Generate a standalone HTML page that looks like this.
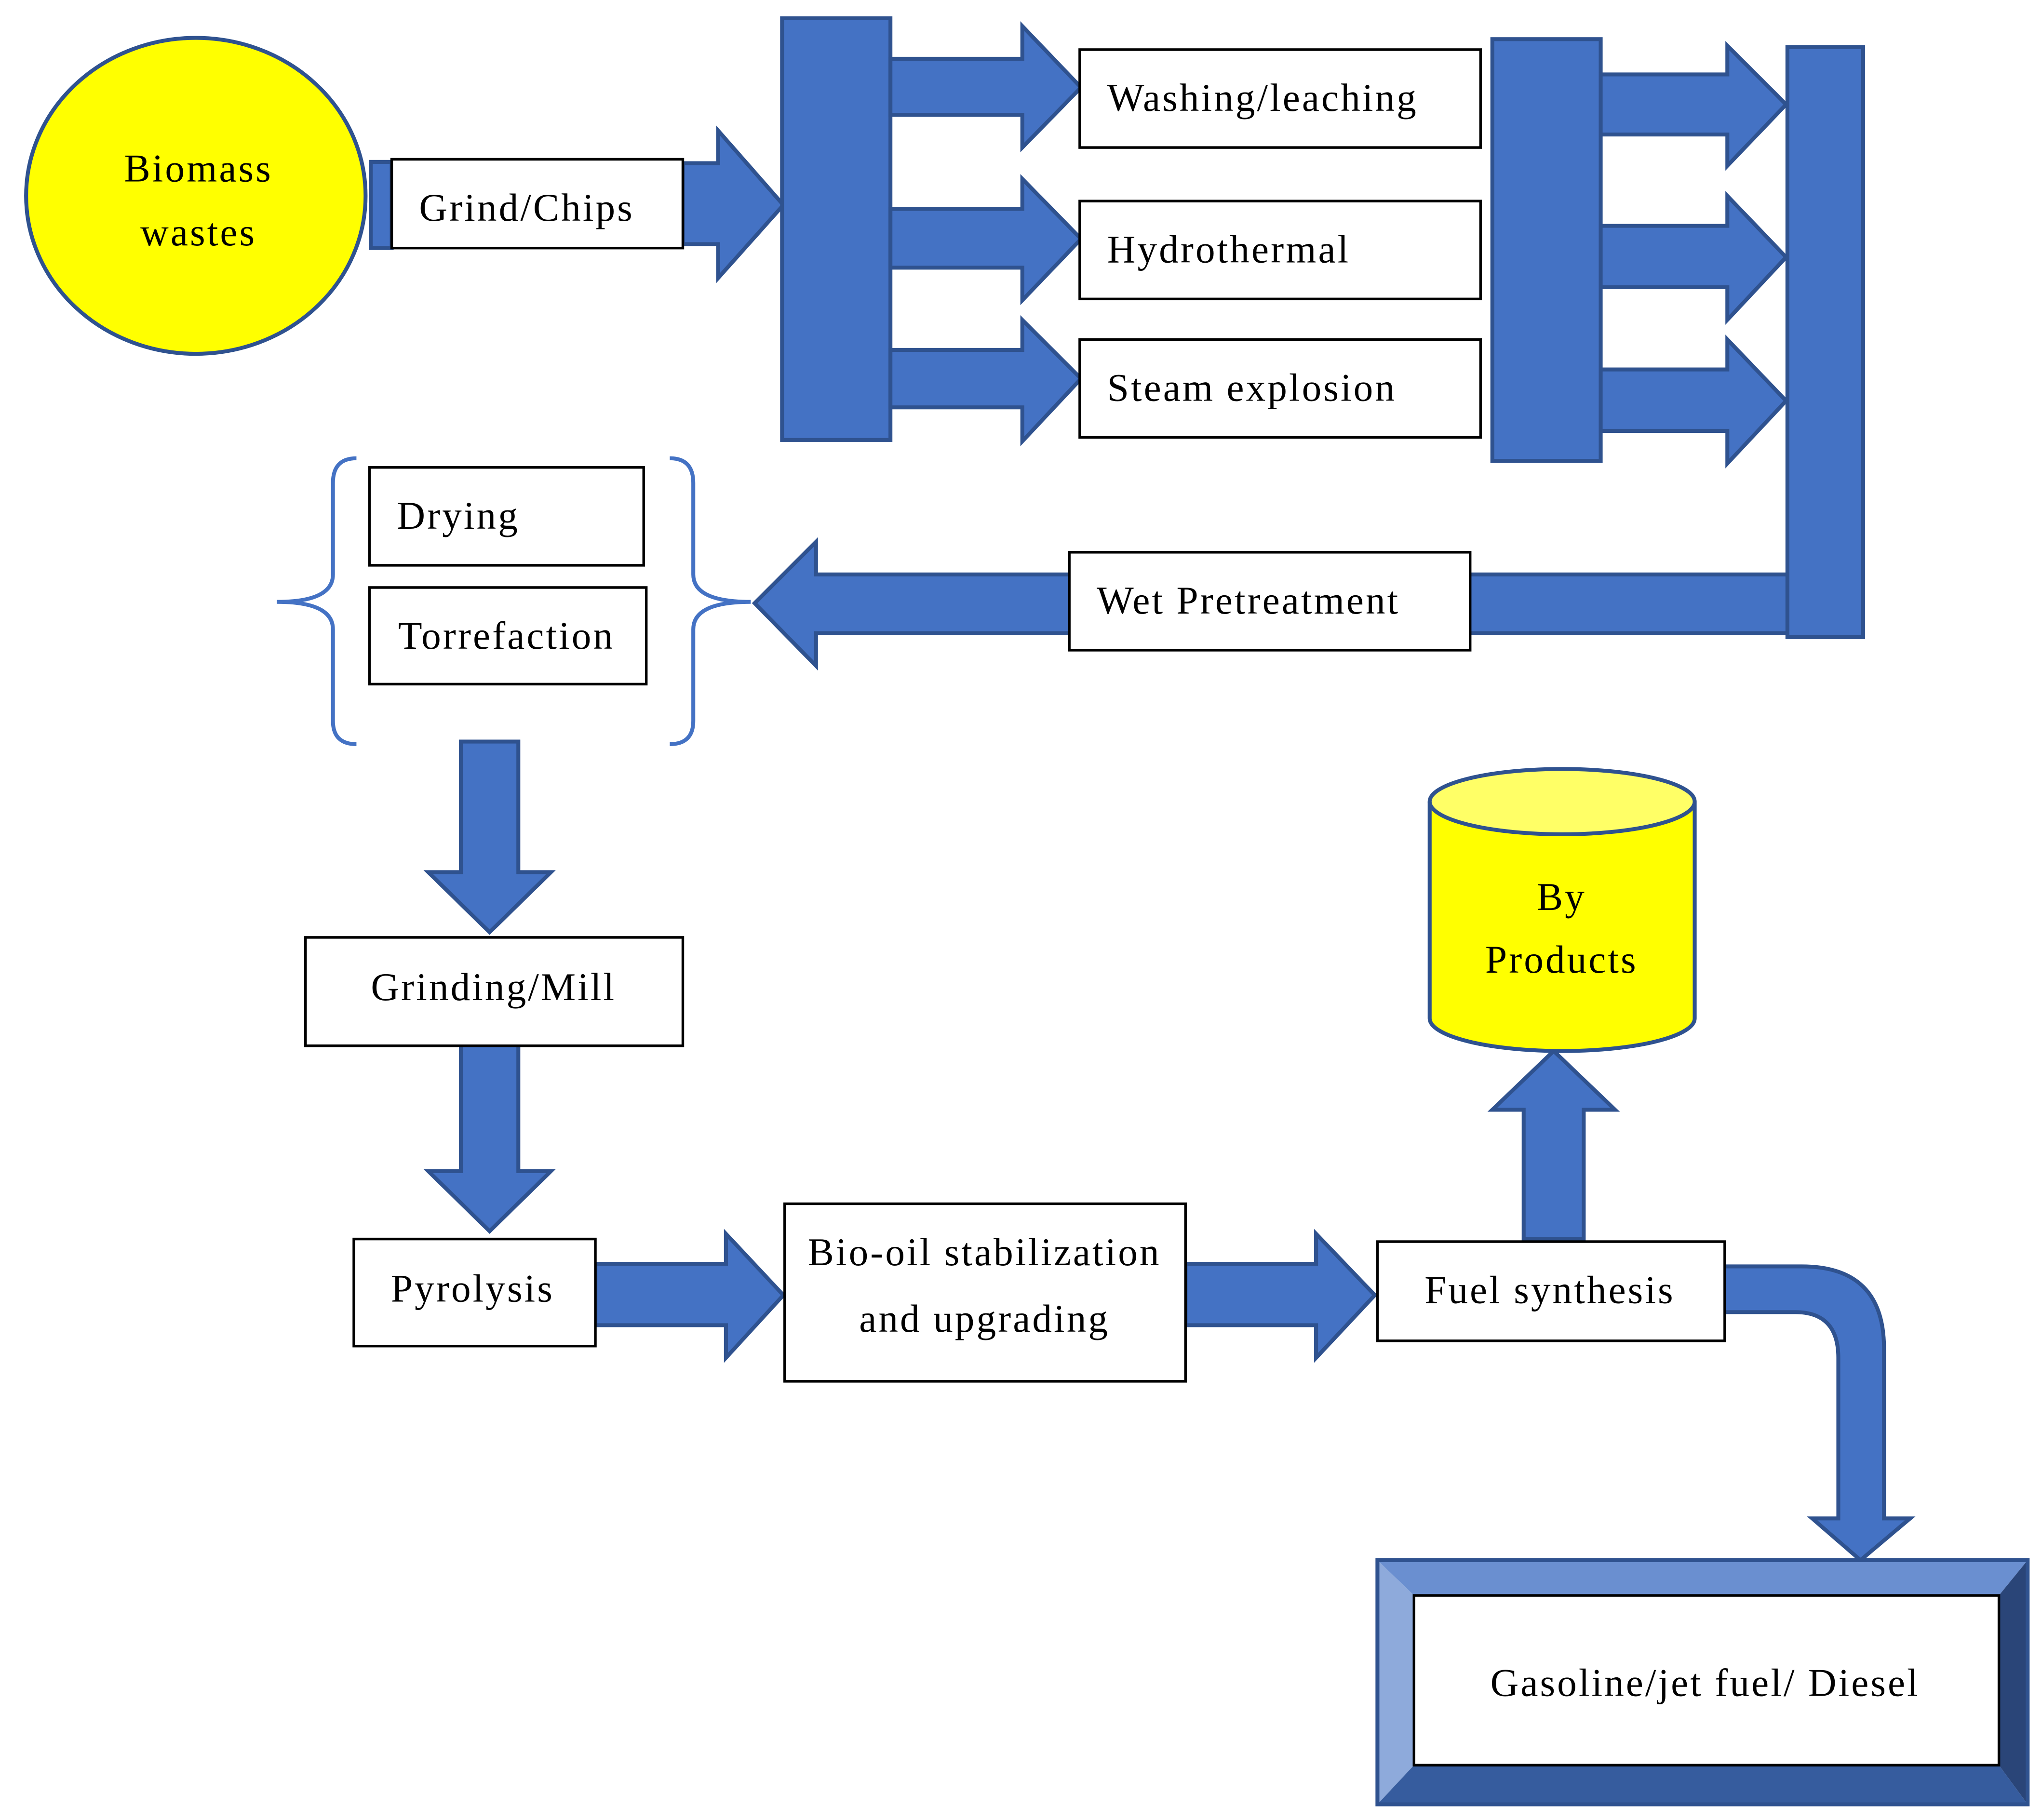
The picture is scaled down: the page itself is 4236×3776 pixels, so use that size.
<!DOCTYPE html>
<html><head><meta charset="utf-8"><style>html,body{margin:0;padding:0;background:#fff}svg{display:block}</style></head>
<body>
<svg width="4236" height="3776" viewBox="0 0 1564 1394" preserveAspectRatio="none" xmlns="http://www.w3.org/2000/svg">
<g font-family="'Liberation Serif', serif" font-size="30" letter-spacing="1.5" fill="#000">
<g fill="#4472C4" stroke="#2F528F" stroke-width="3">
<rect x="284" y="124" width="16" height="66"/>
<polygon points="523,125 550,125 550,100 600,157 550,213 550,187 523,187"/>
<rect x="599" y="14" width="83" height="323"/>
<polygon points="682,45 783,45 783,20 828,67 783,113 783,88 682,88"/>
<polygon points="682,160 783,160 783,137 828,183 783,230 783,205 682,205"/>
<polygon points="682,268 783,268 783,245 828,290 783,338 783,312 682,312"/>
<rect x="1143" y="30" width="83" height="323"/>
<polygon points="1226,57 1323,57 1323,35 1368,80 1323,127 1323,103 1226,103"/>
<polygon points="1226,173 1323,173 1323,150 1368,197 1323,245 1323,220 1226,220"/>
<polygon points="1226,283 1323,283 1323,260 1368,307 1323,355 1323,330 1226,330"/>
<rect x="1369" y="36" width="58" height="452"/>
<polygon points="1369,440 625,440 625,415 578,462 625,510 625,485 1369,485"/>
<polygon points="353,568 397,568 397,668 422,668 375,714 328,668 353,668"/>
<polygon points="353,798 397,798 397,897 422,897 375,943 328,897 353,897"/>
<polygon points="456,968 556,968 556,945 600,992 556,1040 556,1015 456,1015"/>
<polygon points="908,968 1008,968 1008,945 1053,992 1008,1040 1008,1015 908,1015"/>
<polygon points="1167,949 1213,949 1213,850 1237,850 1190,805 1143,850 1167,850"/>
<path d="M1318,970 L1380,970 Q1443,970 1443,1033 L1443,1163 L1463,1163 L1425,1195 L1388,1163 L1408,1163 L1408,1040 Q1408,1005 1375,1005 L1318,1005 Z"/>
</g>
<ellipse cx="150" cy="150" rx="130" ry="121" fill="#FFFF00" stroke="#2F528F" stroke-width="3"/>
<text x="152" y="139" text-anchor="middle">Biomass</text>
<text x="152" y="188" text-anchor="middle">wastes</text>
<g fill="#fff" stroke="#000" stroke-width="2">
<rect x="300" y="122" width="223" height="68"/>
<rect x="827" y="38" width="307" height="75"/>
<rect x="827" y="154" width="307" height="75"/>
<rect x="827" y="260" width="307" height="75"/>
<rect x="819" y="423" width="307" height="75"/>
<rect x="283" y="358" width="210" height="75"/>
<rect x="283" y="450" width="212" height="74"/>
<rect x="234" y="718" width="289" height="83"/>
<rect x="271" y="949" width="185" height="82"/>
<rect x="601" y="922" width="307" height="136"/>
<rect x="1055" y="951" width="266" height="76"/>
</g>
<g fill="none" stroke="#4472C4" stroke-width="3">
<path d="M273,351 Q255,351 255,370 L255,440 Q255,461 212,461 Q255,461 255,482 L255,552 Q255,570 273,570"/>
<path d="M513,351 Q531,351 531,370 L531,440 Q531,461 575,461 Q531,461 531,482 L531,552 Q531,570 513,570"/>
</g>
<text x="321" y="169">Grind/Chips</text>
<text x="848" y="85">Washing/leaching</text>
<text x="848" y="201">Hydrothermal</text>
<text x="848" y="307">Steam explosion</text>
<text x="840" y="470">Wet Pretreatment</text>
<text x="304" y="405">Drying</text>
<text x="305" y="497">Torrefaction</text>
<text x="378" y="766" text-anchor="middle">Grinding/Mill</text>
<text x="362" y="997" text-anchor="middle">Pyrolysis</text>
<text x="754" y="969" text-anchor="middle">Bio-oil stabilization</text>
<text x="754" y="1020" text-anchor="middle">and upgrading</text>
<text x="1187" y="998" text-anchor="middle">Fuel synthesis</text>
<path d="M1095,614 L1095,780 A101.5,25 0 0 0 1298,780 L1298,614" fill="#FFFF00" stroke="#2F528F" stroke-width="3"/>
<ellipse cx="1196.5" cy="614" rx="101.5" ry="25" fill="#FFFF66" stroke="#2F528F" stroke-width="3"/>
<text x="1196" y="697" text-anchor="middle">By</text>
<text x="1196" y="745" text-anchor="middle">Products</text>
<polygon points="1055,1195 1553,1195 1531,1222 1083,1222" fill="#6A8FD0"/>
<polygon points="1055,1195 1083,1222 1083,1352 1055,1382" fill="#8EAADB"/>
<polygon points="1553,1195 1553,1382 1531,1352 1531,1222" fill="#2A4578"/>
<polygon points="1055,1382 1083,1352 1531,1352 1553,1382" fill="#365C9E"/>
<rect x="1055" y="1195" width="498" height="187" fill="none" stroke="#2F528F" stroke-width="3"/>
<rect x="1083" y="1222" width="448" height="130" fill="#fff" stroke="#000" stroke-width="2"/>
<text x="1306" y="1299" text-anchor="middle">Gasoline/jet fuel/ Diesel</text>
</g>
</svg>
</body></html>
